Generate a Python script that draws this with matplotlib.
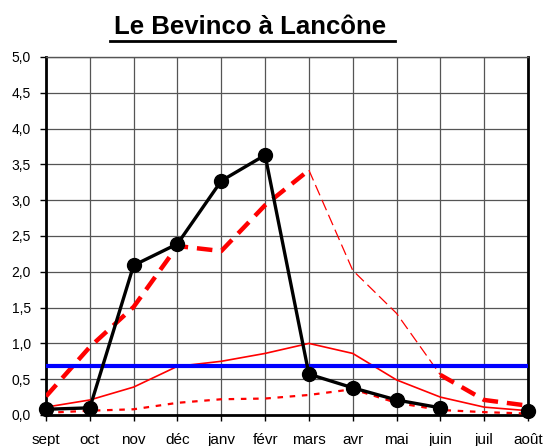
import matplotlib
matplotlib.use("Agg")
import matplotlib.pyplot as plt
import numpy as np

plt.rcParams['font.family'] = ['Liberation Sans', 'DejaVu Sans']

months = ["sept", "oct", "nov", "déc", "janv", "févr", "mars", "avr", "mai", "juin", "juil", "août"]
observed = [0.08, 0.10, 2.09, 2.39, 3.27, 3.63, 0.57, 0.38, 0.21, 0.10, np.nan, 0.06]
wet = [0.26, 0.95, 1.51, 2.36, 2.29, 2.93, 3.42, 2.02, 1.42, 0.56, 0.21, 0.13]
median = [0.11, 0.21, 0.39, 0.68, 0.75, 0.86, 1.00, 0.86, 0.49, 0.25, 0.11, 0.06]
dry = [0.03, 0.06, 0.08, 0.17, 0.22, 0.23, 0.28, 0.36, 0.17, 0.07, 0.04, 0.02]
threshold = 0.69
yticks = [0.0, 0.5, 1.0, 1.5, 2.0, 2.5, 3.0, 3.5, 4.0, 4.5, 5.0]
title = "Le Bevinco à Lancône"

fig = plt.figure(figsize=(5.45, 4.46), dpi=100)
ax = fig.add_axes([46/545, 1-415/446, (528-46)/545, (415-57)/446])
x = np.arange(len(months))

ax.set_xlim(0, 11)
ax.set_ylim(0, 5)
ax.set_yticks(yticks)
ax.set_yticklabels([f"{v:.1f}".replace(".", ",") for v in yticks], fontsize=10)
ax.set_xticks(x)
ax.set_xticklabels(months, fontsize=11)
ax.grid(True, color="#555555", linewidth=0.9)
ax.set_axisbelow(True)
ax.tick_params(axis='both', direction='out', length=4, width=1, colors='black')
ax.tick_params(axis='y', pad=7)
ax.tick_params(axis='x', pad=9)

for s in ['left', 'bottom', 'right']:
    ax.spines[s].set_linewidth(2)
    ax.spines[s].set_color('black')
ax.spines['top'].set_linewidth(1)
ax.spines['top'].set_color('#555555')

# dry (dotted)
ax.plot(x, dry, color='red', linewidth=1.6, linestyle=(0, (2.5, 3)), zorder=3)
# median (thin solid)
ax.plot(x, median, color='red', linewidth=1.2, zorder=3)
# wet: thick dashed until mars, thin dashed mars->juin, thick dashed after
wa = np.array(wet)
ax.plot(x[:7], wa[:7], color='red', linewidth=3.2, linestyle=(0, (3.5, 2)), zorder=3)
ax.plot(x[6:10], wa[6:10], color='red', linewidth=0.9, linestyle=(0, (9, 4)), zorder=3)
ax.plot(x[9:], wa[9:], color='red', linewidth=3.2, linestyle=(0, (3.5, 2)), zorder=3)
# threshold
ax.axhline(threshold, color='#0000ff', linewidth=3, zorder=4)
# observed
ax.plot(x, observed, color='black', linewidth=2.4, marker='o', markersize=10, zorder=5, clip_on=False)

fig.text(250/545, 1-27/446, title, ha='center', va='center', fontsize=18.5, fontweight='bold')
# underline
fig.add_artist(plt.Line2D([110/545, 395/545], [1-41/446, 1-41/446], color='black', linewidth=2))

fig.savefig("out.png", dpi=100)
